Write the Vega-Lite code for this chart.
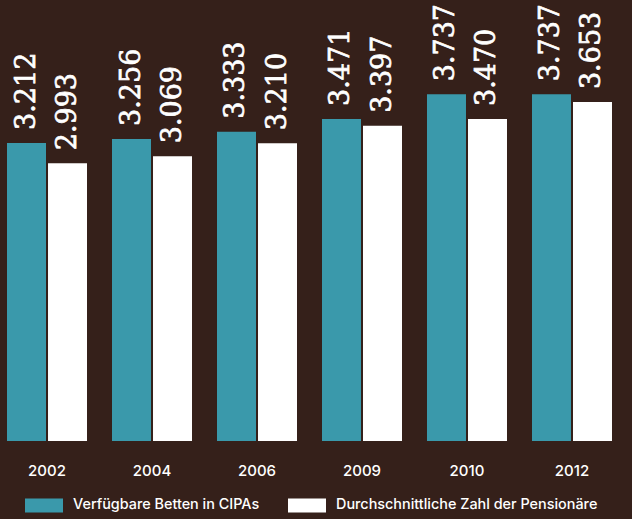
{
  "$schema": "https://vega.github.io/schema/vega-lite/v6.json",
  "width": 619,
  "height": 441,
  "autosize": {"type": "none"},
  "padding": {"left": 0, "top": 0, "right": 13, "bottom": 78},
  "background": "#35201a",
  "config": {
    "view": {"stroke": null},
    "locale": {"number": {"decimal": ",", "thousands": ".", "grouping": [3], "currency": ["", " €"]}}
  },
  "data": {
    "values": [
      {"year": "2002", "series": "Verfügbare Betten in CIPAs", "value": 3212},
      {"year": "2002", "series": "Durchschnittliche Zahl der Pensionäre", "value": 2993},
      {"year": "2004", "series": "Verfügbare Betten in CIPAs", "value": 3256},
      {"year": "2004", "series": "Durchschnittliche Zahl der Pensionäre", "value": 3069},
      {"year": "2006", "series": "Verfügbare Betten in CIPAs", "value": 3333},
      {"year": "2006", "series": "Durchschnittliche Zahl der Pensionäre", "value": 3210},
      {"year": "2009", "series": "Verfügbare Betten in CIPAs", "value": 3471},
      {"year": "2009", "series": "Durchschnittliche Zahl der Pensionäre", "value": 3397},
      {"year": "2010", "series": "Verfügbare Betten in CIPAs", "value": 3737},
      {"year": "2010", "series": "Durchschnittliche Zahl der Pensionäre", "value": 3470},
      {"year": "2012", "series": "Verfügbare Betten in CIPAs", "value": 3737},
      {"year": "2012", "series": "Durchschnittliche Zahl der Pensionäre", "value": 3653}
    ]
  },
  "encoding": {
    "x": {
      "field": "year", "type": "nominal",
      "scale": {"paddingInner": 0.238, "paddingOuter": 0.0667},
      "axis": {"title": null, "domain": false, "ticks": false, "labelAngle": 0, "labelColor": "#ffffff", "labelFont": "Inter", "labelFontSize": 15, "labelFontWeight": 500, "labelPadding": 22}
    },
    "xOffset": {
      "field": "series", "type": "nominal",
      "sort": ["Verfügbare Betten in CIPAs", "Durchschnittliche Zahl der Pensionäre"],
      "scale": {"paddingInner": 0.049, "paddingOuter": 0}
    },
    "y": {"field": "value", "type": "quantitative", "scale": {"domain": [0, 4753]}, "axis": null}
  },
  "layer": [
    {
      "mark": {"type": "bar"},
      "encoding": {
        "color": {
          "field": "series", "type": "nominal",
          "sort": ["Verfügbare Betten in CIPAs", "Durchschnittliche Zahl der Pensionäre"],
          "scale": {"domain": ["Verfügbare Betten in CIPAs", "Durchschnittliche Zahl der Pensionäre"], "range": ["#3a99ab", "#ffffff"]},
          "legend": {
            "title": null, "orient": "none", "direction": "horizontal",
            "legendX": 25, "legendY": 486, "padding": 0,
            "symbolType": "M-1,-0.37L1,-0.37L1,0.37L-1,0.37Z", "symbolSize": 1444,
            "symbolStrokeWidth": 0, "symbolOpacity": 1,
            "labelColor": "#ffffff", "labelFont": "Inter", "labelFontSize": 14.4, "labelFontWeight": 500,
            "labelOffset": 10, "columnPadding": 28, "labelLimit": 400
          }
        }
      }
    },
    {
      "mark": {"type": "text", "angle": 270, "align": "left", "baseline": "middle", "dx": 13, "font": "DejaVu Serif", "fontSize": 27, "color": "#ffffff", "stroke": "#ffffff", "strokeWidth": 0.7},
      "encoding": {
        "text": {"field": "value", "type": "quantitative", "format": ","}
      }
    }
  ]
}
